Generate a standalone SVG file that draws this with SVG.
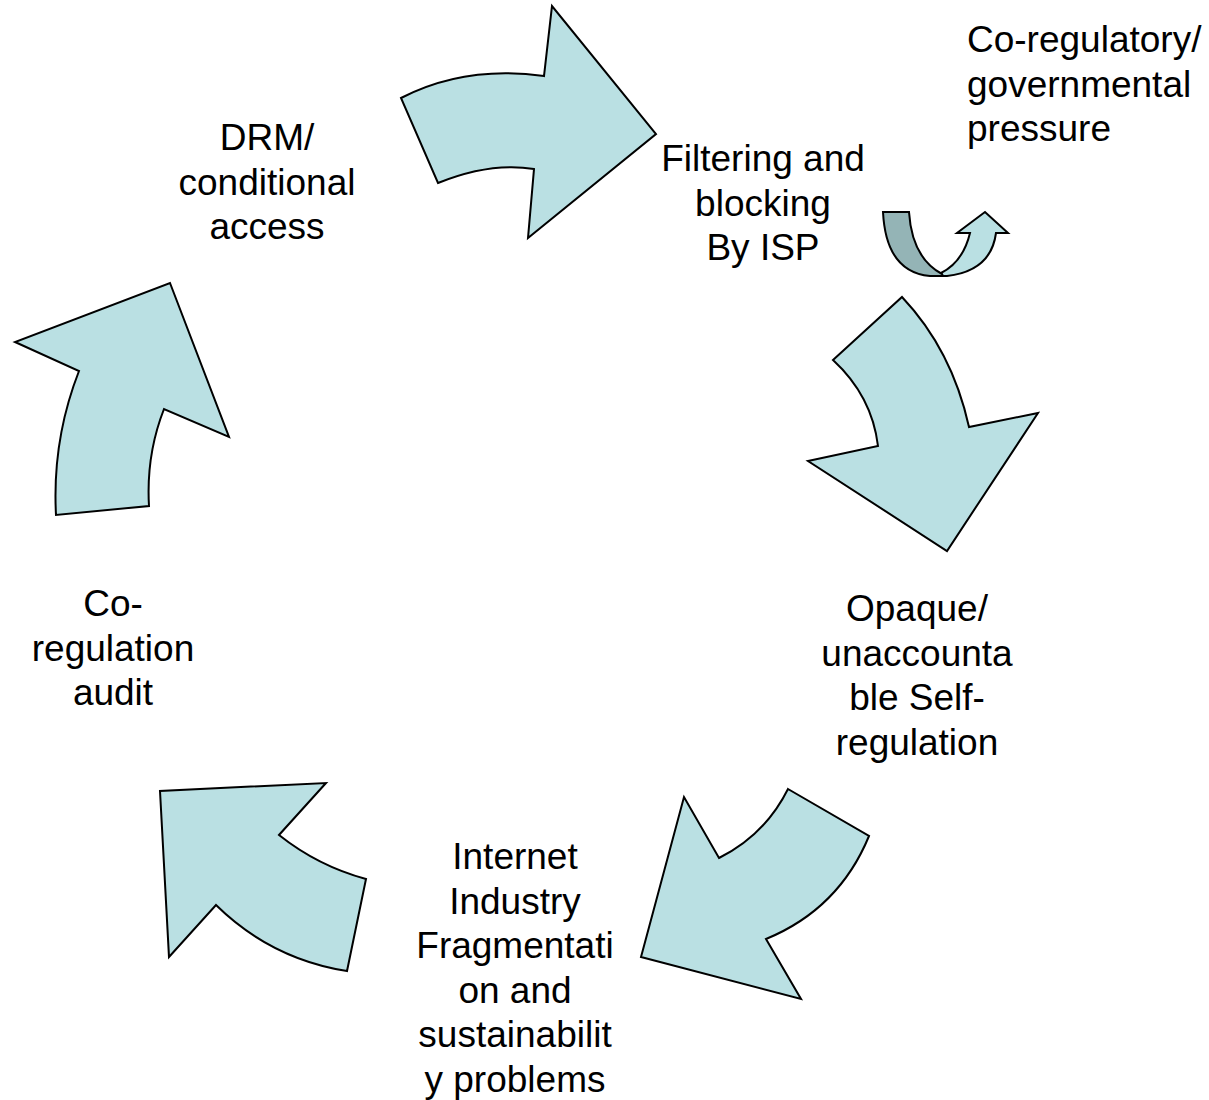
<svg xmlns="http://www.w3.org/2000/svg" width="1209" height="1100" viewBox="0 0 1209 1100">
  <style>
    .arrow { fill: #bae0e3; stroke: #000; stroke-width: 2; stroke-linejoin: miter; }
    .arrow-back { fill: #94b4b6; stroke: #000; stroke-width: 2; }
    .label { font-family: "Liberation Sans", Arial, sans-serif; font-size: 37px; fill: #000; }
    .c { text-anchor: middle; }
  </style>
  <rect width="1209" height="1100" fill="#fff"/>

  <!-- cycle of curved block arrows -->
  <g id="connectors">
    <path id="arrow-top" class="arrow" d="M401,98 Q465,65 544,76 L552,6 L656,134 L528,238 L534,169 Q490,162 438,183 Z"/>
    <path id="arrow-right" class="arrow" d="M902,297 Q952,350 969,427 L1038,413 L947,551 L808,461 L878,446 Q872,396 833,360 Z"/>
    <path id="arrow-bottom-right" class="arrow" d="M788,789 L869,836 Q839,909 766,939 L801,999 L641,957 L684,797 L719,858 Q765,835 788,789 Z"/>
    <path id="arrow-bottom-left" class="arrow" d="M326,783 L279,835 Q318,866 366,879 L347,971 Q271,959 216,905 L169,957 L160,791 Z"/>
    <path id="arrow-left" class="arrow" d="M170,283 L229,437 L164,409 Q146,455 149,506 L56,515 Q52,440 79,371 L15,342 Z"/>
    <!-- small U-turn arrow under "Filtering and blocking" -->
    <g id="uturn">
      <path class="arrow" d="M941,273 Q963,262 970,233 L957,233 L985,212 L1008,233 L996,233 Q991,271 947,276 L930,276 Z"/>
      <path class="arrow-back" d="M883,212 L909,212 Q912,258 942,274 L943,276 L930,276 Q886,272 883,212 Z"/>
    </g>
  </g>

  <g id="node-drm">
    <text class="label c" x="267" y="150">DRM/</text>
    <text class="label c" x="267" y="194.5">conditional</text>
    <text class="label c" x="267" y="239">access</text>
  </g>
  <g id="node-filtering">
    <text class="label c" x="763" y="171">Filtering and</text>
    <text class="label c" x="763" y="215.5">blocking</text>
    <text class="label c" x="763" y="260">By ISP</text>
  </g>
  <g id="node-coregulatory">
    <text class="label" x="967" y="52">Co-regulatory/</text>
    <text class="label" x="967" y="96.5">governmental</text>
    <text class="label" x="967" y="141">pressure</text>
  </g>
  <g id="node-opaque">
    <text class="label c" x="917" y="621">Opaque/</text>
    <text class="label c" x="917" y="665.5">unaccounta</text>
    <text class="label c" x="917" y="710">ble Self-</text>
    <text class="label c" x="917" y="754.5">regulation</text>
  </g>
  <g id="node-internet">
    <text class="label c" x="515" y="869">Internet</text>
    <text class="label c" x="515" y="913.5">Industry</text>
    <text class="label c" x="515" y="958">Fragmentati</text>
    <text class="label c" x="515" y="1002.5">on and</text>
    <text class="label c" x="515" y="1047">sustainabilit</text>
    <text class="label c" x="515" y="1091.5">y problems</text>
  </g>
  <g id="node-coregulation">
    <text class="label c" x="113" y="616">Co-</text>
    <text class="label c" x="113" y="660.5">regulation</text>
    <text class="label c" x="113" y="705">audit</text>
  </g>
</svg>
